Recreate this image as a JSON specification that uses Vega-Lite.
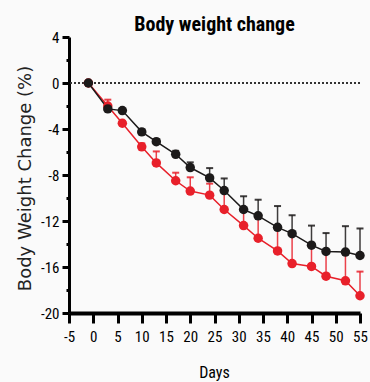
{
  "$schema": "https://vega.github.io/schema/vega-lite/v6.json",
  "autosize": {"type": "none"},
  "padding": {"left": 69, "top": 37, "right": 10, "bottom": 69},
  "width": 291,
  "height": 276,
  "background": "#fafafa",
  "title": {
    "text": "Body weight change",
    "font": "Liberation Sans Narrow, Roboto Condensed, Arial Narrow, Liberation Sans, sans-serif",
    "fontSize": 20,
    "fontWeight": "bold",
    "color": "#000000",
    "anchor": "middle",
    "baseline": "alphabetic",
    "offset": 7,
    "dy": 28
  },
  "config": {
    "view": {"stroke": null},
    "axis": {
      "labelFont": "Liberation Sans Narrow, Roboto Condensed, Arial Narrow, Liberation Sans, sans-serif",
      "labelFontSize": 15,
      "labelColor": "#000000",
      "titleColor": "#000000",
      "domainColor": "#000000",
      "tickColor": "#000000",
      "grid": false
    }
  },
  "data": {
    "values": [
      {"day": -1, "group": "Red", "value": 0, "upper": 0},
      {"day": 3, "group": "Red", "value": -2.0, "upper": -1.45},
      {"day": 6, "group": "Red", "value": -3.5, "upper": -3.3},
      {"day": 10, "group": "Red", "value": -5.55, "upper": -5.25},
      {"day": 13, "group": "Red", "value": -6.95, "upper": -5.95},
      {"day": 17, "group": "Red", "value": -8.5, "upper": -7.8},
      {"day": 20, "group": "Red", "value": -9.4, "upper": -8.2},
      {"day": 24, "group": "Red", "value": -9.75, "upper": -8.75},
      {"day": 27, "group": "Red", "value": -11.0, "upper": -9.5},
      {"day": 31, "group": "Red", "value": -12.4, "upper": -11.1},
      {"day": 34, "group": "Red", "value": -13.5, "upper": -11.7},
      {"day": 38, "group": "Red", "value": -14.6, "upper": -12.6},
      {"day": 41, "group": "Red", "value": -15.7, "upper": -13.1},
      {"day": 45, "group": "Red", "value": -15.95, "upper": -14.15},
      {"day": 48, "group": "Red", "value": -16.8, "upper": -14.7},
      {"day": 52, "group": "Red", "value": -17.2, "upper": -14.8},
      {"day": 55, "group": "Red", "value": -18.5, "upper": -16.4},
      {"day": -1, "group": "Black", "value": 0, "upper": 0},
      {"day": 3, "group": "Black", "value": -2.25, "upper": -2.1},
      {"day": 6, "group": "Black", "value": -2.4, "upper": -2.25},
      {"day": 10, "group": "Black", "value": -4.25, "upper": -4.05},
      {"day": 13, "group": "Black", "value": -5.1, "upper": -4.9},
      {"day": 17, "group": "Black", "value": -6.2, "upper": -5.9},
      {"day": 20, "group": "Black", "value": -7.35, "upper": -6.9},
      {"day": 24, "group": "Black", "value": -8.25, "upper": -7.4},
      {"day": 27, "group": "Black", "value": -9.35, "upper": -8.3},
      {"day": 31, "group": "Black", "value": -11.0, "upper": -9.85},
      {"day": 34, "group": "Black", "value": -11.55, "upper": -10.15},
      {"day": 38, "group": "Black", "value": -12.55, "upper": -10.7},
      {"day": 41, "group": "Black", "value": -13.1, "upper": -11.5},
      {"day": 45, "group": "Black", "value": -14.1, "upper": -12.4},
      {"day": 48, "group": "Black", "value": -14.65, "upper": -13.05},
      {"day": 52, "group": "Black", "value": -14.7, "upper": -12.45},
      {"day": 55, "group": "Black", "value": -15.0, "upper": -12.65}
    ]
  },
  "encoding": {
    "x": {
      "field": "day",
      "type": "quantitative",
      "scale": {"domain": [-5, 55], "nice": false, "zero": false},
      "axis": {
        "values": [-5, 0, 5, 10, 15, 20, 25, 30, 35, 40, 45, 50, 55],
        "labelExpr": "'' + datum.value",
        "domainWidth": 4,
        "tickWidth": 3,
        "tickSize": 10,
        "labelPadding": 6,
        "labelFlush": false,
        "labelOverlap": false,
        "title": "Days",
        "titleFont": "Liberation Sans Narrow, Roboto Condensed, Arial Narrow, Liberation Sans, sans-serif",
        "titleFontSize": 16,
        "titleFontWeight": "normal",
        "titleX": 145,
        "titleY": 64,
        "titleBaseline": "alphabetic"
      }
    },
    "y": {
      "field": "value",
      "type": "quantitative",
      "scale": {"domain": [-20, 4], "nice": false, "zero": false},
      "axis": {
        "values": [-20, -18, -16, -14, -12, -10, -8, -6, -4, -2, 0, 2, 4],
        "labelExpr": "datum.value % 4 === 0 ? '' + datum.value : ''",
        "domainWidth": 3,
        "tickWidth": 3,
        "tickSize": {"condition": {"test": "datum.value % 4 === 0", "value": 7}, "value": 3},
        "labelPadding": 3,
        "labelFlush": false,
        "labelOverlap": false,
        "title": "Body Weight Change (%)",
        "titleFont": "DejaVu Sans",
        "titleFontSize": 18,
        "titleFontWeight": "normal",
        "titleColor": "#222222",
        "titleAngle": -90,
        "titleX": -44,
        "titleY": 141,
        "titleAlign": "center",
        "titleBaseline": "middle"
      }
    },
    "color": {
      "field": "group",
      "type": "nominal",
      "scale": {"domain": ["Red", "Black"], "range": ["#e8202a", "#1c1a1a"]},
      "legend": null
    }
  },
  "layer": [
    {
      "mark": {"type": "rule", "strokeDash": [1.5, 2.5], "strokeWidth": 2, "color": "#333333"},
      "encoding": {"y": {"datum": 0}, "x": null, "color": null}
    },
    {
      "mark": {"type": "rule", "strokeWidth": 1.5, "opacity": 0.85},
      "encoding": {"y2": {"field": "upper"}}
    },
    {
      "mark": {"type": "tick", "orient": "horizontal", "size": 7, "thickness": 2, "opacity": 0.85},
      "encoding": {"y": {"field": "upper", "type": "quantitative"}}
    },
    {
      "mark": {"type": "line", "strokeWidth": 1.5},
      "encoding": {"order": {"field": "day"}}
    },
    {
      "mark": {"type": "point", "filled": true, "opacity": 1, "size": 90, "shape": "circle"}
    }
  ]
}
